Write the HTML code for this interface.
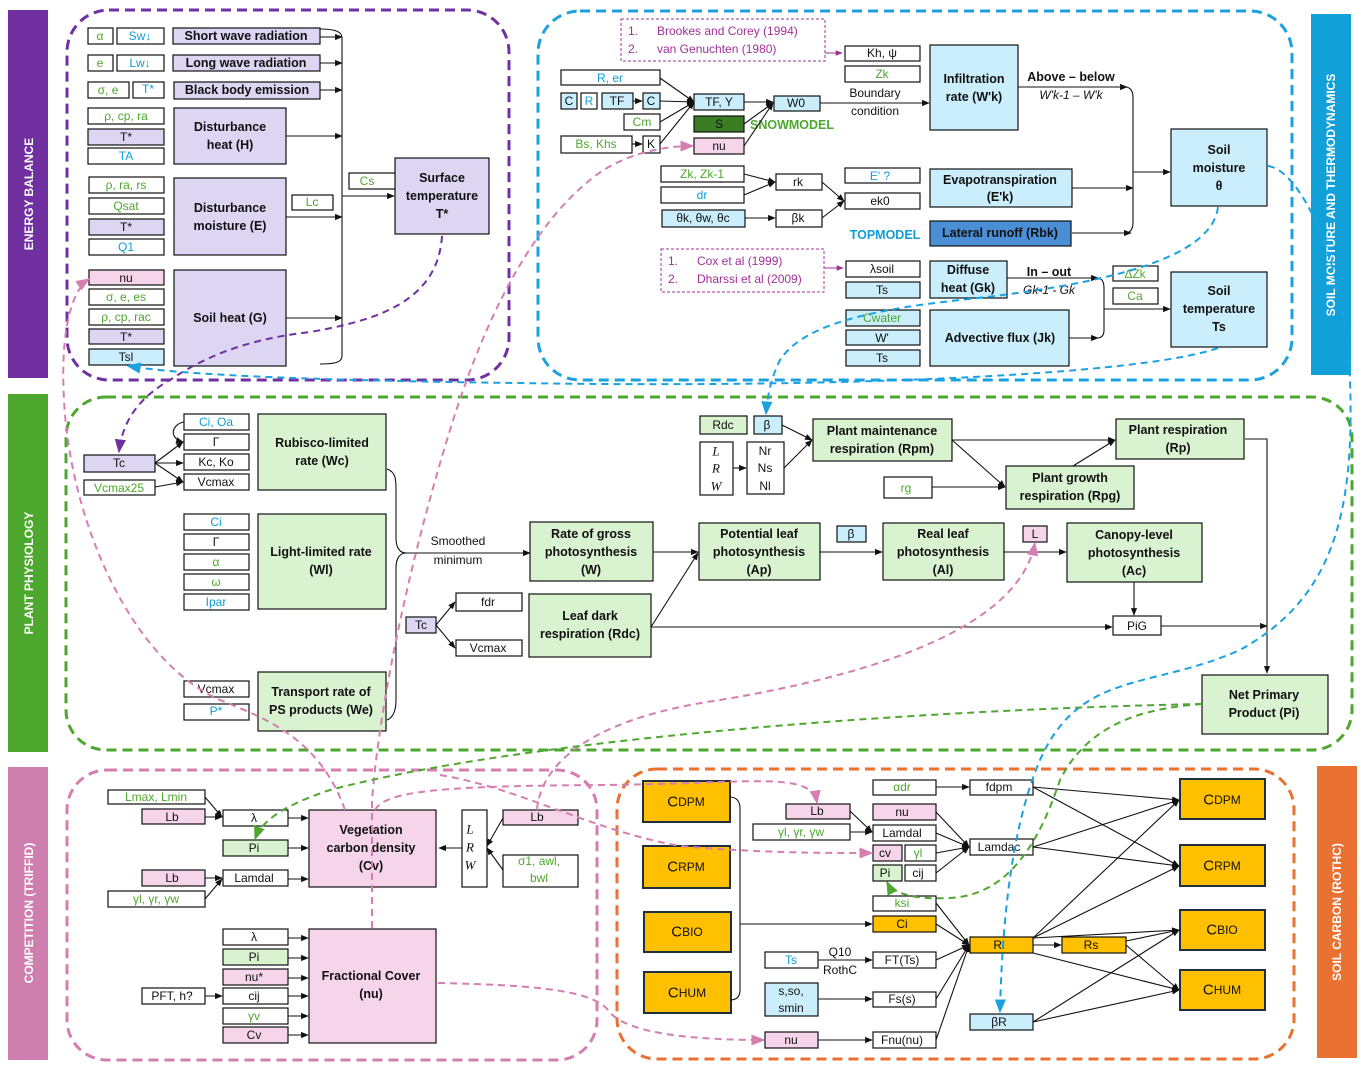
<!DOCTYPE html>
<html><head><meta charset="utf-8"><style>
html,body{margin:0;padding:0;background:#fff}
svg{display:block}
text{font-family:"Liberation Sans",sans-serif;font-size:12px;fill:#111;text-anchor:middle;dominant-baseline:central}
.g{fill:#4ea72e}.b{fill:#0f9ed5}.p{fill:#a0309a;text-anchor:start}
.B{font-weight:bold;font-size:12.5px}
.w{fill:#fff}.lp{fill:#dcd6f2}.lg{fill:#d9f2d0}.lb{fill:#caeefb}.pk{fill:#f6d5ea}.or{fill:#ffc000}
rect.n{stroke:#111;stroke-width:1.2}
.ln{stroke:#111;stroke-width:1.1;fill:none}
.side{font-weight:bold;font-size:12px;fill:#fff}
.big{font-size:15px}
.it{font-family:"Liberation Serif",serif;font-style:italic;font-size:13px}
.reg{fill:none;stroke-width:3;stroke-dasharray:10,6}
.ob{stroke:#1f2f3f;stroke-width:2}
</style></head><body>
<svg width="1372" height="1068" viewBox="0 0 1372 1068" xmlns="http://www.w3.org/2000/svg">
<defs>
<marker id="a" viewBox="0 0 10 10" refX="9" refY="5" markerWidth="7" markerHeight="7" orient="auto"><path d="M0,1 L10,5 L0,9z" fill="#111"/></marker>
<marker id="ap" viewBox="0 0 10 10" refX="9" refY="5" markerWidth="7" markerHeight="7" orient="auto"><path d="M0,1 L10,5 L0,9z" fill="#7030a0"/></marker>
<marker id="ab" viewBox="0 0 10 10" refX="9" refY="5" markerWidth="7" markerHeight="7" orient="auto"><path d="M0,1 L10,5 L0,9z" fill="#1ba1e2"/></marker>
<marker id="ak" viewBox="0 0 10 10" refX="9" refY="5" markerWidth="7" markerHeight="7" orient="auto"><path d="M0,1 L10,5 L0,9z" fill="#d47fb0"/></marker>
<marker id="ag" viewBox="0 0 10 10" refX="9" refY="5" markerWidth="7" markerHeight="7" orient="auto"><path d="M0,1 L10,5 L0,9z" fill="#4ea72e"/></marker>
<marker id="am" viewBox="0 0 10 10" refX="9" refY="5" markerWidth="7" markerHeight="7" orient="auto"><path d="M0,1 L10,5 L0,9z" fill="#a0309a"/></marker>
</defs>
<g>
<!-- side bars -->
<rect x="8" y="10" width="40" height="368" style="fill:#7030a0;stroke:none"/>
<text class="side" transform="translate(29,194) rotate(-90)">ENERGY BALANCE</text>
<rect x="8" y="394" width="40" height="358" style="fill:#4ea72e;stroke:none"/>
<text class="side" transform="translate(29,573) rotate(-90)">PLANT PHYSIOLOGY</text>
<rect x="8" y="767" width="40" height="293" style="fill:#cf7fad;stroke:none"/>
<text class="side" transform="translate(29,913) rotate(-90)">COMPETITION (TRIFFID)</text>
<rect x="1311" y="14" width="40" height="361" style="fill:#12a0d8;stroke:none"/>
<text class="side" transform="translate(1331,195) rotate(-90)">SOIL MOISTURE AND THERMODYNAMICS</text>
<rect x="1317" y="766" width="40" height="292" style="fill:#e97132;stroke:none"/>
<text class="side" transform="translate(1337,912) rotate(-90)">SOIL CARBON (ROTHC)</text>

<!-- regions -->
<rect class="reg" x="67" y="10" width="442" height="370" rx="42" style="stroke:#7030a0"/>
<rect class="reg" x="538" y="11" width="754" height="369" rx="42" style="stroke:#1ba1e2"/>
<rect class="reg" x="66" y="397" width="1286" height="353" rx="40" style="stroke:#4ea72e"/>
<rect class="reg" x="67" y="770" width="530" height="290" rx="40" style="stroke:#d47fb0"/>
<rect class="reg" x="617" y="769" width="677" height="290" rx="40" style="stroke:#e97132"/>
</g>
<g>
<!-- ENERGY BALANCE -->
<rect class="n w" x="88" y="28" width="25" height="16"/><text class="g" x="100" y="36">α</text>
<rect class="n w" x="117" y="28" width="47" height="16"/><text class="b" x="140" y="36">Sw↓</text>
<rect class="n w" x="88" y="55" width="25" height="16"/><text class="g" x="100" y="63">e</text>
<rect class="n w" x="117" y="55" width="47" height="16"/><text class="b" x="140" y="63">Lw↓</text>
<rect class="n w" x="88" y="82" width="41" height="16"/><text class="g" x="108" y="90">σ, e</text>
<rect class="n w" x="133" y="82" width="31" height="16"/><text class="b" x="148" y="89">T*</text>
<rect class="n lp" x="173" y="28" width="147" height="16"/><text class="B" x="246" y="36">Short wave radiation</text>
<rect class="n lp" x="173" y="55" width="147" height="16"/><text class="B" x="246" y="63">Long wave radiation</text>
<rect class="n lp" x="174" y="82" width="146" height="17"/><text class="B" x="247" y="90">Black body emission</text>
<rect class="n w" x="88" y="108" width="76" height="16"/><text class="g" x="126" y="116">ρ, cp, ra</text>
<rect class="n lp" x="88" y="129" width="76" height="16"/><text x="126" y="137">T*</text>
<rect class="n w" x="88" y="148" width="76" height="16"/><text class="b" x="126" y="156">TA</text>
<rect class="n lp" x="174" y="108" width="112" height="56"/><text class="B" x="230" y="127">Disturbance</text><text class="B" x="230" y="145">heat (H)</text>
<rect class="n w" x="89" y="177" width="75" height="16"/><text class="g" x="126" y="185">ρ, ra, rs</text>
<rect class="n w" x="89" y="198" width="75" height="16"/><text class="g" x="126" y="206">Qsat</text>
<rect class="n lp" x="89" y="219" width="75" height="16"/><text x="126" y="227">T*</text>
<rect class="n w" x="89" y="239" width="75" height="16"/><text class="b" x="126" y="247">Q1</text>
<rect class="n lp" x="174" y="178" width="112" height="77"/><text class="B" x="230" y="208">Disturbance</text><text class="B" x="230" y="226">moisture (E)</text>
<rect class="n pk" x="89" y="270" width="75" height="15"/><text x="126" y="278">nu</text>
<rect class="n w" x="89" y="289" width="75" height="16"/><text class="g" x="126" y="297">σ, e, es</text>
<rect class="n w" x="89" y="309" width="75" height="16"/><text class="g" x="126" y="317">ρ, cp, rac</text>
<rect class="n lp" x="89" y="329" width="75" height="15"/><text x="126" y="337">T*</text>
<rect class="n lb" x="89" y="349" width="75" height="16"/><text x="126" y="357">Tsl</text>
<rect class="n lp" x="174" y="270" width="112" height="96"/><text class="B" x="230" y="318">Soil heat (G)</text>
<path class="ln" d="M320,29 C336,29 342,32 342,38 L342,356 C342,362 336,364 320,364"/>
<g class="ln" marker-end="url(#a)">
<path d="M320,37 H342"/><path d="M320,63 H342"/><path d="M320,90 H342"/>
<path d="M286,136 H342"/><path d="M286,217 H342"/><path d="M286,318 H342"/>
<path d="M342,196 H394"/>
</g>
<rect class="n w" x="349" y="173" width="55" height="16"/><text class="g" x="367" y="181">Cs</text>
<rect class="n w" x="292" y="195" width="41" height="15"/><text class="g" x="312" y="202">Lc</text>
<rect class="n lp" x="395" y="158" width="94" height="76"/><text class="B" x="442" y="178">Surface</text><text class="B" x="442" y="196">temperature</text><text class="B" x="442" y="214">T*</text>

<!-- SOIL MOISTURE -->
<rect x="621" y="19" width="204" height="42" style="fill:#fff;stroke:#a0309a;stroke-width:1;stroke-dasharray:3,2"/>
<text class="p" x="628" y="31">1.</text><text class="p" x="657" y="31">Brookes and Corey (1994)</text>
<text class="p" x="628" y="49">2.</text><text class="p" x="657" y="49">van Genuchten (1980)</text>
<path d="M825,53 H842" stroke="#a0309a" fill="none" marker-end="url(#am)"/>
<rect class="n w" x="845" y="46" width="75" height="15"/><text x="882" y="53">Kh, ψ</text>
<rect class="n w" x="845" y="66" width="75" height="16"/><text class="g" x="882" y="74">Zk</text>
<rect class="n w" x="561" y="70" width="99" height="15"/><text class="b" x="610" y="78">R, er</text>
<rect class="n lb" x="561" y="93" width="16" height="16"/><text x="569" y="101">C</text>
<rect class="n w" x="581" y="93" width="16" height="16"/><text class="b" x="589" y="101">R</text>
<rect class="n lb" x="602" y="93" width="31" height="16"/><text x="617" y="101">TF</text>
<rect class="n lb" x="643" y="93" width="17" height="16"/><text x="651" y="101">C</text>
<rect class="n w" x="624" y="114" width="36" height="16"/><text class="g" x="642" y="122">Cm</text>
<rect class="n w" x="561" y="136" width="71" height="17"/><text class="g" x="596" y="144">Bs, Khs</text>
<rect class="n w" x="643" y="136" width="17" height="17"/><text x="651" y="144">K</text>
<rect class="n lb" x="694" y="94" width="50" height="16"/><text x="719" y="102">TF, Y</text>
<rect class="n" x="694" y="116" width="50" height="16" style="fill:#3a7d22"/><text x="719" y="124">S</text>
<rect class="n pk" x="694" y="138" width="50" height="16"/><text x="719" y="146">nu</text>
<text class="B g" x="792" y="125">SNOWMODEL</text>
<rect class="n lb" x="774" y="96" width="46" height="15"/><text x="796" y="103">W0</text>
<g class="ln" marker-end="url(#a)">
<path d="M633,101 H642"/><path d="M632,144 H642"/>
<path d="M660,78 L694,102"/><path d="M660,101 L694,102"/><path d="M660,122 L694,102"/><path d="M660,144 L694,102"/>
<path d="M744,102 H773"/><path d="M744,124 L773,103"/><path d="M744,146 L773,103"/>
<path d="M820,103 H929"/>
</g>
<text x="875" y="93">Boundary</text><text x="875" y="111">condition</text>
<rect class="n lb" x="930" y="45" width="88" height="85"/><text class="B" x="974" y="79">Infiltration</text><text class="B" x="974" y="97">rate (W'k)</text>
<text class="B" x="1071" y="77">Above – below</text>
<text x="1071" y="95" style="font-style:italic">W'k-1 – W'k</text>
<path class="ln" d="M1018,87 H1127" marker-end="url(#a)"/>
<path class="ln" d="M1125,87 C1131,87 1133,92 1133,98 L1133,222 C1133,228 1131,233 1125,233"/>
<rect class="n w" x="661" y="166" width="83" height="16"/><text class="g" x="702" y="174">Zk, Zk-1</text>
<rect class="n w" x="661" y="187" width="83" height="16"/><text class="b" x="702" y="195">dr</text>
<rect class="n lb" x="662" y="210" width="83" height="17"/><text x="703" y="218">θk, θw, θc</text>
<rect class="n w" x="776" y="174" width="46" height="16"/><text x="798" y="182">rk</text>
<rect class="n w" x="776" y="210" width="46" height="17"/><text x="798" y="218">βk</text>
<rect class="n w" x="845" y="168" width="75" height="15"/><text class="b" x="880" y="176">E' ?</text>
<rect class="n w" x="845" y="193" width="75" height="16"/><text x="880" y="201">ek0</text>
<g class="ln" marker-end="url(#a)">
<path d="M744,174 L775,182"/><path d="M744,195 L775,182"/><path d="M745,218 H775"/>
<path d="M822,182 L844,201"/><path d="M822,218 L844,201"/>
<path d="M1072,188 H1133"/><path d="M1072,233 H1131"/>
<path d="M1133,172 H1170"/>
</g>
<rect class="n lb" x="930" y="169" width="142" height="38"/><text class="B" x="1000" y="180">Evapotranspiration</text><text class="B" x="1000" y="197">(E'k)</text>
<text class="B b" x="885" y="235">TOPMODEL</text>
<rect class="n" x="930" y="221" width="141" height="25" style="fill:#4a8fd6"/><text class="B" x="1000" y="233">Lateral runoff (Rbk)</text>
<rect class="n lb" x="1171" y="129" width="96" height="77"/><text class="B" x="1219" y="150">Soil</text><text class="B" x="1219" y="168">moisture</text><text class="B" x="1219" y="186">θ</text>
<rect x="661" y="249" width="163" height="43" style="fill:#fff;stroke:#a0309a;stroke-width:1;stroke-dasharray:3,2"/>
<text class="p" x="668" y="261">1.</text><text class="p" x="697" y="261">Cox et al (1999)</text>
<text class="p" x="668" y="279">2.</text><text class="p" x="697" y="279">Dharssi et al (2009)</text>
<path d="M824,268 H843" stroke="#a0309a" fill="none" marker-end="url(#am)"/>
<rect class="n w" x="846" y="261" width="74" height="16"/><text x="882" y="269">λsoil</text>
<rect class="n lb" x="846" y="282" width="74" height="16"/><text x="882" y="290">Ts</text>
<rect class="n lb" x="930" y="261" width="77" height="37"/><text class="B" x="968" y="270">Diffuse</text><text class="B" x="968" y="288">heat (Gk)</text>
<text class="B" x="1049" y="272">In – out</text>
<text x="1049" y="290" style="font-style:italic">Gk-1 - Gk</text>
<path class="ln" d="M1007,278 H1098" marker-end="url(#a)"/>
<path class="ln" d="M1097,278 C1102,278 1104,282 1104,288 L1104,330 C1104,335 1102,338 1097,338"/>
<path class="ln" d="M1069,338 H1098" marker-end="url(#a)"/>
<path class="ln" d="M1104,309 H1170" marker-end="url(#a)"/>
<rect class="n w" x="1113" y="266" width="45" height="15"/><text class="g" x="1135" y="274">ΔZk</text>
<rect class="n w" x="1113" y="288" width="45" height="16"/><text class="g" x="1135" y="296">Ca</text>
<rect class="n lb" x="1171" y="272" width="96" height="75"/><text class="B" x="1219" y="291">Soil</text><text class="B" x="1219" y="309">temperature</text><text class="B" x="1219" y="327">Ts</text>
<rect class="n lb" x="846" y="310" width="74" height="16"/><text class="g" x="882" y="318">Cwater</text>
<rect class="n lb" x="846" y="330" width="74" height="15"/><text x="882" y="338">W'</text>
<rect class="n lb" x="846" y="350" width="74" height="16"/><text x="882" y="358">Ts</text>
<rect class="n lb" x="930" y="310" width="139" height="56"/><text class="B" x="1000" y="338">Advective flux (Jk)</text>

<!-- PLANT PHYSIOLOGY -->
<rect class="n lp" x="84" y="455" width="71" height="17"/><text x="119" y="463">Tc</text>
<rect class="n w" x="84" y="480" width="71" height="15"/><text class="g" x="119" y="488">Vcmax25</text>
<rect class="n w" x="184" y="414" width="65" height="16"/><text class="b" x="216" y="422">Ci, Oa</text>
<rect class="n w" x="184" y="434" width="65" height="16"/><text x="216" y="442">Γ</text>
<rect class="n w" x="184" y="454" width="65" height="16"/><text x="216" y="462">Kc, Ko</text>
<rect class="n w" x="184" y="474" width="65" height="16"/><text x="216" y="482">Vcmax</text>
<g class="ln" marker-end="url(#a)">
<path d="M155,463 L183,442"/><path d="M155,463 H183"/><path d="M155,463 L183,482"/><path d="M155,487 L183,482"/>
<path d="M184,422 C172,424 168,438 183,442"/>
</g>
<rect class="n lg" x="258" y="414" width="128" height="76"/><text class="B" x="322" y="443">Rubisco-limited</text><text class="B" x="322" y="461">rate (Wc)</text>
<rect class="n w" x="184" y="514" width="65" height="16"/><text class="b" x="216" y="522">Ci</text>
<rect class="n w" x="184" y="534" width="65" height="16"/><text x="216" y="542">Γ</text>
<rect class="n w" x="184" y="554" width="65" height="16"/><text class="g" x="216" y="562">α</text>
<rect class="n w" x="184" y="574" width="65" height="16"/><text class="g" x="216" y="582">ω</text>
<rect class="n w" x="184" y="594" width="65" height="16"/><text class="b" x="216" y="602">Ipar</text>
<rect class="n lg" x="258" y="514" width="128" height="95"/><text class="B" x="321" y="552">Light-limited rate</text><text class="B" x="321" y="570">(Wl)</text>
<rect class="n w" x="184" y="681" width="65" height="16"/><text x="216" y="689">Vcmax</text>
<rect class="n w" x="184" y="704" width="65" height="16"/><text class="b" x="216" y="711">P*</text>
<rect class="n lg" x="258" y="672" width="128" height="59"/><text class="B" x="321" y="692">Transport rate of</text><text class="B" x="321" y="710">PS products (We)</text>
<path class="ln" d="M387,469 C396,472 396,480 396,490 L396,538 C396,548 400,553 406,553 C400,553 396,558 396,568 L396,700 C396,712 392,718 387,720"/>
<path class="ln" d="M404,553 H530" marker-end="url(#a)"/>
<text x="458" y="541">Smoothed</text><text x="458" y="560">minimum</text>
<rect class="n lg" x="530" y="522" width="123" height="59"/><text class="B" x="591" y="534">Rate of gross</text><text class="B" x="591" y="552">photosynthesis</text><text class="B" x="591" y="570">(W)</text>
<rect class="n lp" x="406" y="617" width="30" height="16"/><text x="421" y="625">Tc</text>
<rect class="n w" x="456" y="593" width="66" height="18"/><text x="488" y="602">fdr</text>
<rect class="n w" x="456" y="640" width="66" height="16"/><text x="488" y="648">Vcmax</text>
<g class="ln" marker-end="url(#a)"><path d="M436,625 L455,602"/><path d="M436,625 L455,648"/></g>
<rect class="n lg" x="529" y="594" width="122" height="63"/><text class="B" x="590" y="616">Leaf dark</text><text class="B" x="590" y="634">respiration (Rdc)</text>
<g class="ln" marker-end="url(#a)">
<path d="M653,552 H698"/><path d="M651,627 L698,553"/><path d="M651,627 H1112"/>
</g>
<rect class="n lg" x="699" y="523" width="121" height="57"/><text class="B" x="759" y="534">Potential leaf</text><text class="B" x="759" y="552">photosynthesis</text><text class="B" x="759" y="570">(Ap)</text>
<rect class="n lb" x="837" y="526" width="29" height="16"/><text x="851" y="534">β</text>
<rect class="n lg" x="883" y="523" width="121" height="57"/><text class="B" x="943" y="534">Real leaf</text><text class="B" x="943" y="552">photosynthesis</text><text class="B" x="943" y="570">(Al)</text>
<rect class="n pk" x="1023" y="526" width="24" height="16"/><text x="1035" y="534">L</text>
<rect class="n lg" x="1067" y="523" width="135" height="59"/><text class="B" x="1134" y="535">Canopy-level</text><text class="B" x="1134" y="553">photosynthesis</text><text class="B" x="1134" y="571">(Ac)</text>
<g class="ln" marker-end="url(#a)">
<path d="M820,552 H882"/><path d="M1004,552 H1066"/><path d="M1134,582 V615"/>
<path d="M1245,439 H1267 V673"/><path d="M1161,626 H1267"/>
</g>
<rect class="n w" x="1113" y="616" width="48" height="19"/><text x="1137" y="626">PiG</text>
<rect class="n lg" x="1202" y="675" width="126" height="59"/><text class="B" x="1264" y="695">Net Primary</text><text class="B" x="1264" y="713">Product (Pi)</text>
<rect class="n lg" x="700" y="416" width="47" height="18"/><text x="723" y="425">Rdc</text>
<rect class="n lb" x="754" y="416" width="28" height="18"/><text x="767" y="425">β</text>
<rect class="n w" x="700" y="442" width="33" height="53"/><text class="it" x="716" y="451">L</text><text class="it" x="716" y="468">R</text><text class="it" x="716" y="486">W</text>
<rect class="n w" x="747" y="442" width="37" height="52"/><text x="765" y="451">Nr</text><text x="765" y="468">Ns</text><text x="765" y="486">Nl</text>
<rect class="n lg" x="813" y="419" width="139" height="42"/><text class="B" x="882" y="431">Plant maintenance</text><text class="B" x="882" y="449">respiration (Rpm)</text>
<rect class="n lg" x="1116" y="419" width="128" height="40"/><text class="B" x="1178" y="430">Plant respiration</text><text class="B" x="1178" y="448">(Rp)</text>
<rect class="n lg" x="1006" y="466" width="128" height="43"/><text class="B" x="1070" y="478">Plant growth</text><text class="B" x="1070" y="496">respiration (Rpg)</text>
<rect class="n w" x="884" y="477" width="48" height="21"/><text class="g" x="906" y="488">rg</text>
<g class="ln" marker-end="url(#a)">
<path d="M733,468 H746"/><path d="M782,425 L812,440"/><path d="M784,468 L812,440"/>
<path d="M952,440 H1115"/><path d="M952,440 L1005,487"/><path d="M932,487 H1005"/><path d="M1073,466 L1115,440"/>
</g>

<!-- COMPETITION -->
<rect class="n w" x="108" y="790" width="97" height="14"/><text class="g" x="156" y="797">Lmax, Lmin</text>
<rect class="n pk" x="142" y="809" width="63" height="15"/><text x="172" y="817">Lb</text>
<rect class="n w" x="223" y="810" width="65" height="16"/><text x="254" y="818">λ</text>
<rect class="n lg" x="223" y="840" width="65" height="16"/><text x="254" y="848">Pi</text>
<rect class="n pk" x="142" y="870" width="63" height="16"/><text x="172" y="878">Lb</text>
<rect class="n w" x="223" y="870" width="65" height="16"/><text x="254" y="878">Lamdal</text>
<rect class="n w" x="108" y="891" width="97" height="16"/><text class="g" x="156" y="899">γl, γr, γw</text>
<g class="ln" marker-end="url(#a)">
<path d="M205,797 L222,817"/><path d="M205,817 H222"/><path d="M205,878 H222"/><path d="M205,899 L222,879"/>
<path d="M288,818 H308"/><path d="M288,848 H308"/><path d="M288,879 H308"/>
<path d="M462,848 H439"/><path d="M503,818 L487,846"/><path d="M503,870 L487,848"/>
</g>
<rect class="n pk" x="309" y="810" width="127" height="77"/><text class="B" x="371" y="830">Vegetation</text><text class="B" x="371" y="848">carbon density</text><text class="B" x="371" y="866">(Cv)</text>
<rect class="n w" x="462" y="810" width="25" height="77"/><text class="it" x="470" y="829">L</text><text class="it" x="470" y="847">R</text><text class="it" x="470" y="865">W</text>
<rect class="n pk" x="503" y="810" width="75" height="15"/><text x="537" y="817">Lb</text>
<rect class="n w" x="503" y="855" width="75" height="32"/><text class="g" x="539" y="861">σ1, awl,</text><text class="g" x="539" y="878">bwl</text>
<rect class="n w" x="223" y="929" width="65" height="16"/><text x="254" y="937">λ</text>
<rect class="n lg" x="223" y="949" width="65" height="16"/><text x="254" y="957">Pi</text>
<rect class="n pk" x="223" y="969" width="65" height="16"/><text x="254" y="977">nu*</text>
<rect class="n w" x="223" y="988" width="65" height="16"/><text x="254" y="996">cij</text>
<rect class="n w" x="223" y="1008" width="65" height="16"/><text class="g" x="254" y="1016">γv</text>
<rect class="n pk" x="223" y="1027" width="65" height="16"/><text x="254" y="1035">Cv</text>
<rect class="n w" x="142" y="988" width="63" height="16"/><text x="172" y="996">PFT, h?</text>
<g class="ln" marker-end="url(#a)">
<path d="M288,938 H308"/><path d="M288,958 H308"/><path d="M288,978 H308"/><path d="M288,996 H308"/><path d="M288,1016 H308"/><path d="M288,1035 H308"/><path d="M205,996 H222"/>
</g>
<rect class="n pk" x="309" y="929" width="127" height="114"/><text class="B" x="371" y="976">Fractional Cover</text><text class="B" x="371" y="994">(nu)</text>

<!-- SOIL CARBON -->
<rect class="or ob" x="643" y="781" width="87" height="41"/><text class="big" x="686" y="802">C<tspan font-size="12">DPM</tspan></text>
<rect class="or ob" x="643" y="846" width="87" height="42"/><text class="big" x="686" y="867">C<tspan font-size="12">RPM</tspan></text>
<rect class="or ob" x="644" y="912" width="87" height="40"/><text class="big" x="687" y="932">C<tspan font-size="12">BIO</tspan></text>
<rect class="or ob" x="644" y="972" width="87" height="41"/><text class="big" x="687" y="993">C<tspan font-size="12">HUM</tspan></text>
<rect class="or ob" x="1180" y="779" width="85" height="40"/><text class="big" x="1222" y="800">C<tspan font-size="12">DPM</tspan></text>
<rect class="or ob" x="1180" y="845" width="85" height="41"/><text class="big" x="1222" y="866">C<tspan font-size="12">RPM</tspan></text>
<rect class="or ob" x="1180" y="910" width="85" height="40"/><text class="big" x="1222" y="930">C<tspan font-size="12">BIO</tspan></text>
<rect class="or ob" x="1180" y="970" width="85" height="40"/><text class="big" x="1222" y="990">C<tspan font-size="12">HUM</tspan></text>
<path class="ln" d="M730,797 C736,797 740,801 740,808 L740,990 C740,997 736,1000 730,1000"/>
<path class="ln" d="M740,924 H872" marker-end="url(#a)"/>
<rect class="n pk" x="786" y="804" width="64" height="15"/><text x="817" y="811">Lb</text>
<rect class="n w" x="753" y="824" width="97" height="16"/><text class="g" x="801" y="832">γl, γr, γw</text>
<rect class="n w" x="873" y="780" width="63" height="15"/><text class="g" x="902" y="787">αdr</text>
<rect class="n pk" x="873" y="804" width="63" height="16"/><text x="902" y="812">nu</text>
<rect class="n w" x="873" y="825" width="63" height="16"/><text x="902" y="833">Lamdal</text>
<rect class="n pk" x="873" y="845" width="29" height="16"/><text x="885" y="853">cv</text>
<rect class="n w" x="905" y="845" width="31" height="16"/><text class="g" x="918" y="853">γl</text>
<rect class="n lg" x="873" y="865" width="29" height="16"/><text x="885" y="873">Pi</text>
<rect class="n w" x="905" y="865" width="31" height="16"/><text x="918" y="873">cij</text>
<rect class="n w" x="873" y="896" width="63" height="15"/><text class="g" x="902" y="903">ksi</text>
<rect class="n or" x="873" y="916" width="63" height="16"/><text x="902" y="924">Ci</text>
<rect class="n w" x="970" y="780" width="63" height="15"/><text x="999" y="787">fdpm</text>
<rect class="n w" x="970" y="839" width="63" height="16"/><text x="999" y="847">Lamdac</text>
<rect class="n or" x="970" y="937" width="63" height="16"/><text x="999" y="945">Ri</text>
<rect class="n or" x="1062" y="937" width="64" height="16"/><text x="1091" y="945">Rs</text>
<rect class="n lb" x="970" y="1014" width="63" height="16"/><text x="999" y="1022">βR</text>
<rect class="n w" x="765" y="952" width="53" height="16"/><text class="b" x="791" y="960">Ts</text>
<text x="840" y="952">Q10</text><text x="840" y="970">RothC</text>
<rect class="n w" x="873" y="952" width="63" height="16"/><text x="902" y="960">FT(Ts)</text>
<rect class="n lb" x="765" y="983" width="53" height="33"/><text x="791" y="991">s,so,</text><text x="791" y="1008">smin</text>
<rect class="n w" x="873" y="992" width="63" height="15"/><text x="902" y="999">Fs(s)</text>
<rect class="n pk" x="765" y="1032" width="53" height="16"/><text x="791" y="1040">nu</text>
<rect class="n w" x="873" y="1032" width="63" height="16"/><text x="902" y="1040">Fnu(nu)</text>
<g class="ln" marker-end="url(#a)">
<path d="M850,811 L872,832"/><path d="M850,832 H872"/>
<path d="M936,787 H969"/>
<path d="M936,812 L969,847"/><path d="M936,833 L969,847"/><path d="M936,853 L969,847"/><path d="M936,873 L969,847"/>
<path d="M818,960 H872"/><path d="M818,999 H872"/><path d="M818,1040 H872"/>
<path d="M936,903 L969,945"/><path d="M936,924 L969,945"/><path d="M936,960 L969,945"/><path d="M936,999 L969,945"/><path d="M936,1040 L969,945"/>
<path d="M1033,945 H1061"/>
<path d="M1033,787 L1179,800"/><path d="M1033,787 L1179,866"/>
<path d="M1033,847 L1179,800"/><path d="M1033,847 L1179,866"/>
<path d="M1033,938 L1179,800"/><path d="M1033,938 L1179,866"/><path d="M1033,938 L1179,930"/><path d="M1033,953 L1179,990"/>
<path d="M1126,941 L1179,930"/><path d="M1126,945 L1179,990"/>
<path d="M1033,1022 L1179,930"/><path d="M1033,1022 L1179,990"/>
</g>
</g>
<!-- cross-section dashed connectors -->
<g fill="none" stroke-width="2" stroke-dasharray="7,5">
<path d="M442,236 C438,300 380,320 310,332 C240,340 200,360 170,380 C135,400 122,425 119,452" stroke="#7030a0" marker-end="url(#ap)"/>
<path d="M1218,348 C1150,372 900,386 600,384 C400,382 200,378 128,366" stroke="#1ba1e2" marker-end="url(#ab)"/>
<path d="M1218,207 C1212,260 1100,285 960,300 C850,312 800,330 780,360 C770,380 767,400 766,414" stroke="#1ba1e2" marker-end="url(#ab)"/>
<path d="M1268,166 C1300,170 1345,260 1350,380 C1355,520 1330,600 1240,650 C1150,690 1080,670 1040,760 C1010,830 1002,930 1000,1012" stroke="#1ba1e2" marker-end="url(#ab)"/>
<path d="M372,928 L372,800 C380,700 410,560 450,430 C490,300 540,220 590,180 C620,155 660,146 693,146" stroke="#d47fb0" marker-end="url(#ak)"/>
<path d="M345,810 C320,740 270,720 220,700 C130,660 70,520 64,400 C60,330 72,290 89,279" stroke="#d47fb0" marker-end="url(#ak)"/>
<path d="M537,810 C540,770 580,720 720,700 C900,670 1020,620 1035,543" stroke="#d47fb0" marker-end="url(#ak)"/>
<path d="M375,810 C385,790 450,786 600,785 C750,784 812,770 817,803" stroke="#d47fb0" marker-end="url(#ak)"/>
<path d="M438,983 C520,985 590,988 608,1010 C625,1035 700,1040 764,1040" stroke="#d47fb0" marker-end="url(#ak)"/>
<path d="M440,775 C520,788 590,830 680,846 C760,853 820,853 872,853" stroke="#d47fb0" marker-end="url(#ak)"/>
<path d="M1202,704 C900,710 520,740 330,790 C285,805 262,820 255,839" stroke="#4ea72e" marker-end="url(#ag)"/>
<path d="M1202,704 C1150,708 1090,720 1060,780 C1040,840 1010,895 950,898 C910,900 892,892 887,882" stroke="#4ea72e" marker-end="url(#ag)"/>
</g>
</svg>
</body></html>
